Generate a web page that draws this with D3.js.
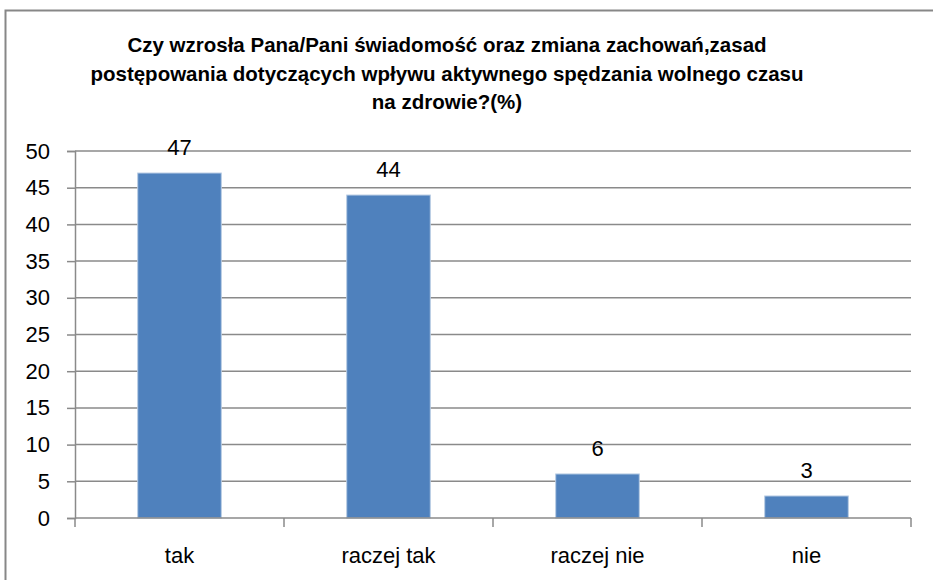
<!DOCTYPE html>
<html>
<head>
<meta charset="utf-8">
<script src="https://cdn.jsdelivr.net/npm/d3@7"></script>
<style>
  html, body { margin: 0; padding: 0; background: #fff; }
  svg { display: block; }
</style>
</head>
<body>
<svg id="chart" width="933" height="580"></svg>
<script>
const titleLines = [
  "Czy wzrosła Pana/Pani świadomość oraz zmiana zachowań,zasad",
  "postępowania dotyczących wpływu aktywnego spędzania wolnego czasu",
  "na zdrowie?(%)"
];
const categories = ["tak", "raczej tak", "raczej nie", "nie"];
const values = [47, 44, 6, 3];
const yTicks = [0, 5, 10, 15, 20, 25, 30, 35, 40, 45, 50];

const svg = d3.select("#chart");
const W = 933, H = 580;
const margin = { left: 75, right: 22, top: 151, bottom: 62 };
const FONT = "'Liberation Sans', Arial, sans-serif";
const gridColor = "#8a8a8a";
const LABEL_SIZE = 22;

// outer frame (continues beyond visible area at right & bottom)
svg.append("rect")
  .attr("x", 5.5).attr("y", 10.5)
  .attr("width", 1200).attr("height", 1200)
  .attr("fill", "none").attr("stroke", "#878787").attr("stroke-width", 2);

const x = d3.scaleBand().domain(categories)
  .range([margin.left, W - margin.right]).paddingInner(0).paddingOuter(0);
const y = d3.scaleLinear().domain([0, 50]).range([H - margin.bottom, margin.top]);

// gridlines
svg.append("g").selectAll("line").data(yTicks.filter(d => d > 0)).join("line")
  .attr("x1", margin.left).attr("x2", W - margin.right)
  .attr("y1", d => y(d)).attr("y2", d => y(d))
  .attr("stroke", gridColor).attr("stroke-width", 1.5);

// y axis
const yAxis = svg.append("g").attr("transform", `translate(${margin.left},0)`)
  .call(d3.axisLeft(y).tickValues(yTicks).tickSize(8).tickPadding(17));
yAxis.select(".domain").attr("stroke", gridColor).attr("stroke-width", 1.5);
yAxis.selectAll(".tick line").attr("stroke", gridColor).attr("stroke-width", 1.5);
yAxis.selectAll("text").attr("font-family", FONT).attr("font-size", LABEL_SIZE).attr("fill", "#000");

// bars
const barW = x.bandwidth() * 0.4;
svg.append("g").selectAll("rect").data(values).join("rect")
  .attr("x", (d, i) => x(categories[i]) + x.bandwidth() / 2 - barW / 2)
  .attr("width", barW)
  .attr("y", d => y(d))
  .attr("height", d => y(0) - y(d))
  .attr("fill", "#4F81BD")
  .attr("stroke", "#b8cce4").attr("stroke-width", 1);

// x axis
const xAxisG = svg.append("g").attr("transform", `translate(0,${y(0)})`);
xAxisG.append("line")
  .attr("x1", margin.left).attr("x2", W - margin.right)
  .attr("stroke", gridColor).attr("stroke-width", 1.5);
const boundaries = categories.map(c => x(c)).concat([x(categories[categories.length - 1]) + x.bandwidth()]);
xAxisG.selectAll("line.tk").data(boundaries).join("line").attr("class", "tk")
  .attr("x1", d => d).attr("x2", d => d).attr("y1", 0).attr("y2", 9)
  .attr("stroke", gridColor).attr("stroke-width", 1.5);
xAxisG.selectAll("text").data(categories).join("text")
  .attr("x", d => x(d) + x.bandwidth() / 2)
  .attr("y", 45)
  .attr("text-anchor", "middle")
  .attr("font-family", FONT).attr("font-size", LABEL_SIZE).attr("fill", "#000")
  .text(d => d);

// data labels
svg.append("g").selectAll("text").data(values).join("text")
  .attr("x", (d, i) => x(categories[i]) + x.bandwidth() / 2)
  .attr("y", d => y(d) - 18)
  .attr("text-anchor", "middle")
  .attr("font-family", FONT).attr("font-size", LABEL_SIZE).attr("fill", "#000")
  .text(d => d);

// title
svg.append("g").selectAll("text").data(titleLines).join("text")
  .attr("x", 447)
  .attr("y", (d, i) => 52 + i * 28.5)
  .attr("text-anchor", "middle")
  .attr("font-family", FONT).attr("font-weight", "bold").attr("font-size", 20.5)
  .attr("fill", "#000")
  .text(d => d);
</script>
</body>
</html>
